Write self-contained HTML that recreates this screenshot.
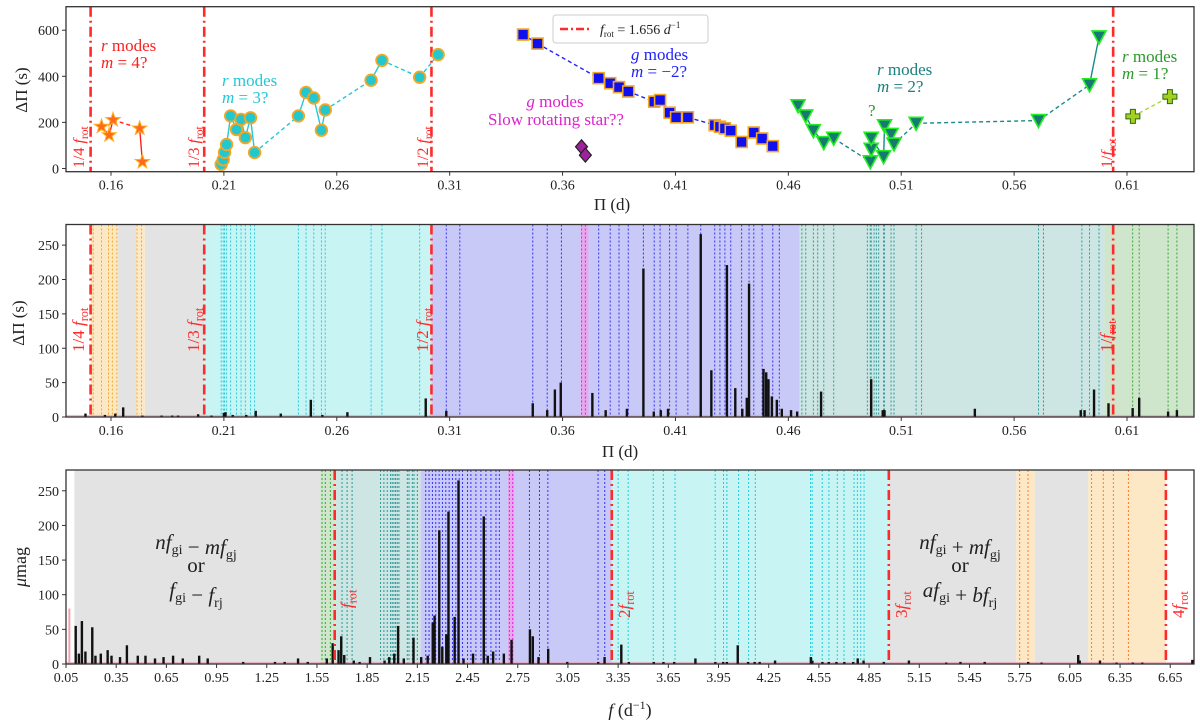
<!DOCTYPE html>
<html><head><meta charset="utf-8"><style>
html,body{margin:0;padding:0;background:#fff;}
svg{display:block;font-family:"Liberation Serif","DejaVu Serif",serif;}
</style></head><body>
<svg id="fig" width="1200" height="728" viewBox="0 0 1200 728" xmlns="http://www.w3.org/2000/svg">
<g id="p1"></g>
<g id="p2"></g>
<g id="p3"></g>
</svg>
<script>
// ---------- data ----------
const fRot = 1.656;
const starP=[0.1558,0.1592,0.1609,0.1727,0.1739];
const starD=[182,145,211,174,29];
const circP=[0.2088,0.2097,0.2103,0.2112,0.2130,0.2156,0.2176,0.2195,0.2218,0.2236,0.2430,0.2464,0.2498,0.2532,0.2549,0.2752,0.2800,0.2967,0.3049];
const circD=[18,38,70,104,228,169,213,134,220,69,228,330,306,166,254,383,469,396,494];
const sqP=[0.3425,0.3489,0.3760,0.3811,0.3850,0.3891,0.4006,0.4032,0.4074,0.4103,0.4155,0.4274,0.4297,0.4319,0.4345,0.4393,0.4447,0.4484,0.4531];
const sqD=[581,542,392,370,353,334,290,297,242,222,222,188,181,174,164,115,156,130,97];
const triP=[0.4643,0.4677,0.4711,0.4757,0.4801,0.4963,0.4967,0.4967,0.5022,0.5026,0.5055,0.5068,0.5166,0.5708,0.5934,0.5976];
const triD=[272,228,164,112,131,29,83,131,51,185,148,106,196,208,363,571];
const plusP=[0.6126,0.6290];
const plusD=[226,312];
const diaP=[0.3684,0.3701];
const diaD=[94,58];
const yTicks1=[0,200,400,600];
const piTicks=[0.16,0.21,0.26,0.31,0.36,0.41,0.46,0.51,0.56,0.61];
const yTicks23=[0,50,100,150,200,250];
const fTicks=[0.05,0.35,0.65,0.95,1.25,1.55,1.85,2.15,2.45,2.75,3.05,3.35,3.65,3.95,4.25,4.55,4.85,5.15,5.45,5.75,6.05,6.35,6.65];
// panel 2 bars (period, amplitude)
const barP=[0.1487,0.1573,0.1619,0.1654,0.1739,0.1824,0.1871,0.1897,0.1986,0.2045,0.2100,0.2107,0.2139,0.2199,0.2241,0.2352,0.2485,0.2536,0.2647,0.2994,0.3085,0.3468,0.3532,0.3566,0.3592,0.3732,0.3791,0.3885,0.3958,0.4004,0.4035,0.4067,0.4212,0.4259,0.4328,0.4365,0.4396,0.4416,0.4426,0.4490,0.4502,0.4512,0.4527,0.4549,0.4571,0.4612,0.4639,0.4745,0.4967,0.5018,0.5026,0.5426,0.5895,0.5912,0.5954,0.6018,0.6125,0.6154,0.6282,0.6321];
const barA=[5,3,5,14,2,2,2,2,4,2,6,7,3,3,9,5,25,3,7,27,9,20,10,40,50,35,10,12,216,8,10,12,266,68,221,42,12,28,194,70,65,55,30,25,12,10,8,37,55,10,10,12,10,10,40,20,13,28,8,10];
// panel 3 bars (frequency, amplitude)
const barF=[0.108,0.127,0.145,0.166,0.207,0.226,0.258,0.299,0.322,0.373,0.414,0.479,0.525,0.582,0.633,0.690,0.748,0.846,0.897,1.109,1.299,1.357,1.437,1.495,1.609,1.644,1.679,1.695,1.713,1.770,1.805,1.867,1.954,1.982,2.012,2.035,2.069,2.127,2.173,2.212,2.242,2.253,2.281,2.299,2.323,2.336,2.373,2.396,2.426,2.483,2.547,2.571,2.603,2.667,2.713,2.823,2.840,2.874,2.932,3.046,3.231,3.269,3.369,3.414,3.563,3.621,3.685,3.812,3.931,3.978,4.000,4.065,4.127,4.166,4.196,4.288,4.502,4.511,4.571,4.609,4.655,4.702,4.755,4.782,4.817,4.938,5.088,5.311,5.396,5.541,5.801,5.881,6.100,6.109,6.230,6.329,6.426,6.483,6.782];
const barFA=[55,15,62,18,53,12,15,20,12,10,27,12,12,8,10,12,8,12,8,3,3,3,8,3,8,30,20,40,13,5,3,10,5,10,15,55,8,38,10,12,60,70,193,25,43,220,68,265,8,15,213,12,18,15,35,50,40,10,22,3,3,10,28,3,3,3,3,8,3,3,3,27,3,3,3,5,10,5,3,3,3,3,3,8,5,3,5,2,3,3,3,2,13,5,5,2,2,2,6];
// panel 2 regions [start,end] in period
const regP=[[0.1510,0.1630,'#fde8c6'],[0.1630,0.1712,'#e3e3e3'],[0.1712,0.1750,'#fde8c6'],[0.1750,0.2013,'#e3e3e3'],[0.2013,0.3019,'#c9f4f4'],[0.3019,0.3680,'#c9c9f7'],[0.3680,0.3715,'#e7a7ee'],[0.3715,0.4650,'#c9c9f7'],[0.4650,0.6000,'#cde5e3'],[0.6000,0.6397,'#cfe5cc']];
// panel 3 regions in frequency
const regF=[[0.10,1.57,'#e3e3e3'],[1.57,1.656,'#cfe5cc'],[1.656,2.17,'#cde5e3'],[2.17,2.69,'#c9c9f7'],[2.69,2.73,'#e7a7ee'],[2.73,3.312,'#c9c9f7'],[3.312,4.968,'#c9f4f4'],[4.968,5.73,'#e3e3e3'],[5.73,5.84,'#fde8c6'],[5.84,6.16,'#e3e3e3'],[6.16,6.624,'#fde8c6']];
const dotP_orange=[0.1521,0.1558,0.1589,0.1606,0.1626,0.1715,0.1735];
const dotP_cyan=[0.2088,0.2097,0.2103,0.2112,0.2130,0.2156,0.2176,0.2195,0.2218,0.2236,0.2430,0.2464,0.2498,0.2532,0.2549,0.2752,0.2800,0.2967];
const dotP_blue=[0.3085,0.3145,0.3468,0.3532,0.3595,0.3760,0.3811,0.3850,0.3891,0.3958,0.4006,0.4032,0.4074,0.4103,0.4155,0.4212,0.4274,0.4297,0.4319,0.4345,0.4393,0.4426,0.4447,0.4484,0.4531,0.4560];
const dotP_teal=[0.4660,0.4677,0.4711,0.4730,0.4757,0.4801,0.4950,0.4963,0.4967,0.4980,0.4990,0.5000,0.5022,0.5026,0.5055,0.5068,0.5166,0.5190,0.5708,0.5730,0.5900,0.5934,0.5976];
const dotP_green=[0.6125,0.6154,0.6282,0.6321];
const dotP_mag=[0.3684,0.3701];
const dotF_green=[1.58,1.60,1.63];
const dotF_teal=[1.70,1.73,1.76,1.93,1.95,1.97,1.99,2.00,2.01,2.02,2.03,2.04,2.09,2.10,2.12,2.13,2.15];
const dotF_blue=[2.20,2.22,2.24,2.26,2.28,2.30,2.32,2.34,2.36,2.38,2.40,2.42,2.45,2.47,2.50,2.53,2.56,2.59,2.62,2.64,2.82,2.88,2.93,3.23,3.27];
const dotF_mag=[2.70,2.72];
const dotF_cyan=[3.35,3.41,3.56,3.62,3.69,3.93,3.98,4.00,4.07,4.13,4.17,4.50,4.51,4.57,4.61,4.66,4.70,4.76,4.78,4.80,4.82];
const dotF_orange=[5.75,5.80,6.18,6.25,6.31,6.40];

// ---------- helpers ----------
const NS='http://www.w3.org/2000/svg';
function mk(parent,tag,attrs,text){const e=document.createElementNS(NS,tag);for(const k in attrs)e.setAttribute(k,attrs[k]);if(text!==undefined)e.textContent=text;parent.appendChild(e);return e;}
function lin(d0,d1,r0,r1){return v=>r0+(v-d0)*(r1-r0)/(d1-d0);}
const X0=66,X1=1194;
const xPi=lin(0.14007,0.63967,X0,X1);
const xF=lin(0.05,6.792,X0,X1);
const y1=lin(-14,702,171.7,6.7);
const y2=lin(0,280,417,224.5);
const y3=lin(0,280,664,470);
const RED='#ff2a2a';

function frame(g,top,bot,name){
  const r=mk(g,'rect',{x:X0,y:top,width:X1-X0,height:bot-top,fill:'none',stroke:'#333',  'stroke-width':1.3});
  
  
}
function xTicks(g,ticks,sx,bot,fmt,name){
  const gg=mk(g,'g',{});
  
  
  ticks.forEach(t=>{const x=sx(t);mk(gg,'line',{x1:x,x2:x,y1:bot,y2:bot+4,stroke:'#333'});
    mk(gg,'text',{x:x,y:bot+18,'font-size':14,'text-anchor':'middle',fill:'#222'},fmt(t));});
}
function yTicks(g,ticks,sy,name){
  const gg=mk(g,'g',{});
  
  
  ticks.forEach(t=>{const y=sy(t);mk(gg,'line',{x1:X0-4,x2:X0,y1:y,y2:y,stroke:'#333'});
    mk(gg,'text',{x:X0-7,y:y+5,'font-size':14,'text-anchor':'end',fill:'#222'},String(t));});
}
function vred(g,x,top,bot){
  const l=mk(g,'line',{x1:x,x2:x,y1:top,y2:bot,stroke:RED,'stroke-width':2.6,'stroke-dasharray':'10,4,2,4'});
  
  
}
function rotLabel(g,x,y,pre,size,name){
  const t=mk(g,'text',{x:0,y:0,transform:`translate(${x},${y}) rotate(-90)`,'font-size':size,fill:RED});
  
  
  mk(t,'tspan',{},pre);
  mk(t,'tspan',{'font-style':'italic'},'f');
  mk(t,'tspan',{'font-size':size*0.72,dy:4},'rot');
}
function series(g,P,D,color,dash,name){
  const gg=mk(g,'g',{});
  
  
  for(let i=0;i<P.length-1;i++){
    const solid=(P[i+1]-P[i])<0.006;
    mk(gg,'line',{x1:xPi(P[i]),y1:y1(D[i]),x2:xPi(P[i+1]),y2:y1(D[i+1]),stroke:color,'stroke-width':1.4,'stroke-dasharray':(solid&&!dash)?'none':'4,3'});
  }
  return gg;
}
function twoLine(g,x,y,c,l1,l2,name){
  const t=mk(g,'text',{x:x,y:y,'font-size':17,fill:c});
  
  
  mk(t,'tspan',{'font-style':'italic'},l1[0]);mk(t,'tspan',{},l1[1]);
  const t2=mk(g,'text',{x:x,y:y+17,'font-size':17,fill:c});
  
  
  mk(t2,'tspan',{'font-style':'italic'},'m');mk(t2,'tspan',{},l2);
}

// ---------- panel 1 ----------
const g1=document.getElementById('p1');
[4,3,2,1].forEach(k=>vred(g1,xPi(1/(k*fRot)),6.7,171.7));
rotLabel(g1,84,168,'1/4 ',16,'label-quarter-frot');
rotLabel(g1,199,168,'1/3 ',16,'label-third-frot');
rotLabel(g1,428,168,'1/2 ',16,'label-half-frot');
rotLabel(g1,1112,168,'1/',16,'label-frot');
series(g1,starP,starD,'#ff2020',false,'r-modes-m4-line');
series(g1,circP,circD,'#22c8d8',false,'r-modes-m3-line');
series(g1,sqP,sqD,'#2222ff',true,'g-modes-m-2-line');
series(g1,triP,triD,'#1a8a8a',false,'r-modes-m2-line');
series(g1,plusP,plusD,'#a8d838',true,'r-modes-m1-line');
starP.forEach((p,i)=>{const x=xPi(p),y=y1(starD[i]);let pts='';for(let k=0;k<10;k++){const r=k%2?3:7.5;const a=-Math.PI/2+k*Math.PI/5;pts+=(x+r*Math.cos(a)).toFixed(1)+','+(y+r*Math.sin(a)).toFixed(1)+' ';}
  const s=mk(g1,'polygon',{points:pts,fill:'#ff6a1a',stroke:'#ffb020','stroke-width':1});
  
  });
circP.forEach((p,i)=>{const c=mk(g1,'circle',{cx:xPi(p),cy:y1(circD[i]),r:5.8,fill:'#22c8d0',stroke:'#f5a623','stroke-width':1.8});
  
  });
sqP.forEach((p,i)=>{const r=mk(g1,'rect',{x:xPi(p)-5.5,y:y1(sqD[i])-5.5,width:11,height:11,fill:'#1010ee',stroke:'#f5a623','stroke-width':1.6});
  
  });
triP.forEach((p,i)=>{const x=xPi(p),y=y1(triD[i]);const t=mk(g1,'polygon',{points:`${x-7},${y-6} ${x+7},${y-6} ${x},${y+7}`,fill:'#167a70',stroke:'#22ee22','stroke-width':1.6});
  
  });
plusP.forEach((p,i)=>{const x=xPi(p),y=y1(plusD[i]);const t=mk(g1,'path',{d:`M${x-7},${y-2.5}h4.5v-4.5h5v4.5h4.5v5h-4.5v4.5h-5v-4.5h-4.5z`,fill:'#a6d020',stroke:'#2a6a10','stroke-width':1});
  
  });
diaP.forEach((p,i)=>{const x=xPi(p),y=y1(diaD[i]);const d=mk(g1,'polygon',{points:`${x},${y-7} ${x+6},${y} ${x},${y+7} ${x-6},${y}`,fill:'#a020a0',stroke:'#222','stroke-width':1.2});
  
  });
twoLine(g1,101,51,'#ff2020',['r',' modes'],' = 4?','r-modes-m4-label');
twoLine(g1,222,86,'#22c8d8',['r',' modes'],' = 3?','r-modes-m3-label');
twoLine(g1,631,60,'#2222ff',['g',' modes'],' = −2?','g-modes-m-2-label');
twoLine(g1,877,75,'#1a8080',['r',' modes'],' = 2?','r-modes-m2-label');
twoLine(g1,1122,62,'#2a9a2a',['r',' modes'],' = 1?','r-modes-m1-label');
{const t=mk(g1,'text',{x:868,y:116,'font-size':17,fill:'#2a9a2a'},'?');
 const a=mk(g1,'text',{x:555,y:107,'font-size':17,fill:'#dd22cc','text-anchor':'middle'});
 mk(a,'tspan',{'font-style':'italic'},'g');mk(a,'tspan',{},' modes');
 const b=mk(g1,'text',{x:556,y:125,'font-size':17,fill:'#dd22cc','text-anchor':'middle'},'Slow rotating star??');}
{const lg=mk(g1,'g',{});
 mk(lg,'rect',{x:553,y:15,width:155,height:28,rx:3,fill:'#fff',stroke:'#ccc'});
 mk(lg,'line',{x1:560,x2:590,y1:29,y2:29,stroke:RED,'stroke-width':2.6,'stroke-dasharray':'8,3,2,3'});
 const t=mk(lg,'text',{x:600,y:34,'font-size':14,fill:'#222'});
 mk(t,'tspan',{'font-style':'italic'},'f');mk(t,'tspan',{'font-size':9,dy:3},'rot');mk(t,'tspan',{dy:-3},' = 1.656 ');mk(t,'tspan',{'font-style':'italic'},'d');mk(t,'tspan',{'font-size':9,dy:-6},'−1');}
frame(g1,6.7,171.7,'panel1-frame');
xTicks(g1,piTicks,xPi,171.7,t=>t.toFixed(2),'panel1-x-ticks');
yTicks(g1,yTicks1,y1,'panel1-y-ticks');
{const t=mk(g1,'text',{x:612,y:210,'font-size':17,'text-anchor':'middle',fill:'#222'},'Π (d)');
 const y=mk(g1,'text',{x:0,y:0,transform:'translate(27,90) rotate(-90)','font-size':17,'text-anchor':'middle',fill:'#222'},'ΔΠ (s)');}

// ---------- panel 2 ----------
const g2=document.getElementById('p2');
regP.forEach(r=>{const e=mk(g2,'rect',{x:xPi(r[0]),y:224.5,width:xPi(r[1])-xPi(r[0]),height:417-224.5,fill:r[2]});
  
  });
function dots(g,arr,sx,top,bot,col,name){arr.forEach(v=>{const l=mk(g,'line',{x1:sx(v),x2:sx(v),y1:top,y2:bot,stroke:col,'stroke-width':1,'stroke-dasharray':'2,2'});
  
  });}
dots(g2,dotP_orange,xPi,224.5,417,'#f5a623','orange-mode-line');
dots(g2,dotP_cyan,xPi,224.5,417,'#22ccdd','cyan-mode-line');
dots(g2,dotP_blue,xPi,224.5,417,'#3030ff','blue-mode-line');
dots(g2,dotP_teal,xPi,224.5,417,'#2a9a9a','teal-mode-line');
dots(g2,dotP_green,xPi,224.5,417,'#33aa33','green-mode-line');
dots(g2,dotP_mag,xPi,224.5,417,'#dd22dd','magenta-mode-line');
{const n=mk(g2,'rect',{x:X0,y:y2(3),width:X1-X0,height:y2(0)-y2(3),fill:'#e8a0b8',opacity:0.7});}
barP.forEach((p,i)=>{const b=mk(g2,'rect',{x:xPi(p)-1.2,y:y2(barA[i]),width:2.4,height:y2(0)-y2(barA[i]),fill:'#111'});
  
  });
[4,3,2,1].forEach(k=>vred(g2,xPi(1/(k*fRot)),224.5,417));
rotLabel(g2,84,352,'1/4 ',17,'p2-label-quarter-frot');
rotLabel(g2,199,352,'1/3 ',17,'p2-label-third-frot');
rotLabel(g2,428,352,'1/2 ',17,'p2-label-half-frot');
rotLabel(g2,1112,352,'1/',17,'p2-label-frot');
frame(g2,224.5,417,'panel2-frame');
xTicks(g2,piTicks,xPi,417,t=>t.toFixed(2),'panel2-x-ticks');
yTicks(g2,yTicks23,y2,'panel2-y-ticks');
{const t=mk(g2,'text',{x:620,y:457,'font-size':17,'text-anchor':'middle',fill:'#222'},'Π (d)');
 const y=mk(g2,'text',{x:0,y:0,transform:'translate(24,323) rotate(-90)','font-size':17,'text-anchor':'middle',fill:'#222'},'ΔΠ (s)');}

// ---------- panel 3 ----------
const g3=document.getElementById('p3');
regF.forEach(r=>{const e=mk(g3,'rect',{x:xF(r[0]),y:470,width:xF(r[1])-xF(r[0]),height:194,fill:r[2]});
  
  });
dots(g3,dotF_green,xF,470,664,'#33aa33','green-freq-line');
dots(g3,dotF_teal,xF,470,664,'#2a9a9a','teal-freq-line');
dots(g3,dotF_blue,xF,470,664,'#3030ff','blue-freq-line');
dots(g3,dotF_mag,xF,470,664,'#dd22dd','magenta-freq-line');
dots(g3,dotF_cyan,xF,470,664,'#22ccdd','cyan-freq-line');
dots(g3,dotF_orange,xF,470,664,'#ff7a30','orange-freq-line');
{const n=mk(g3,'rect',{x:X0,y:y3(3),width:X1-X0,height:y3(0)-y3(3),fill:'#e8a0b8',opacity:0.7});
 const p=mk(g3,'rect',{x:xF(0.07)-1,y:y3(80),width:2,height:y3(0)-y3(80),fill:'#f4a0b0'});}
barF.forEach((f,i)=>{const b=mk(g3,'rect',{x:xF(f)-1.2,y:y3(barFA[i]),width:2.4,height:y3(0)-y3(barFA[i]),fill:'#111'});
  
  });
[1,2,3,4].forEach(k=>vred(g3,xF(k*fRot),470,664));
rotLabel(g3,xF(fRot)+18,608,'',17,'label-1-frot');
rotLabel(g3,xF(2*fRot)+18,618,'2',17,'label-2-frot');
rotLabel(g3,xF(3*fRot)+18,618,'3',17,'label-3-frot');
rotLabel(g3,xF(4*fRot)+18,618,'4',17,'label-4-frot');
function combo(g,x,y,parts,name){
  const t=mk(g,'text',{x:x,y:y,'font-size':21,'text-anchor':'middle',fill:'#222'});
  
  
  parts.forEach(p=>{if(p[1]==='i')mk(t,'tspan',{'font-style':'italic'},p[0]);else if(p[1]==='s'){mk(t,'tspan',{'font-size':14,dy:5},p[0]);mk(t,'tspan',{dy:-5},'');}else mk(t,'tspan',{},p[0]);});
}
combo(g3,196,549,[['n','i'],['f','i'],['gi','s'],[' − '],['m','i'],['f','i'],['gj','s']],'combination-left-1');
combo(g3,196,572,[['or']],'combination-left-or');
combo(g3,196,597,[['f','i'],['gi','s'],[' − '],['f','i'],['rj','s']],'combination-left-2');
combo(g3,960,549,[['n','i'],['f','i'],['gi','s'],[' + '],['m','i'],['f','i'],['gj','s']],'combination-right-1');
combo(g3,960,572,[['or']],'combination-right-or');
combo(g3,960,597,[['a','i'],['f','i'],['gi','s'],[' + '],['b','i'],['f','i'],['rj','s']],'combination-right-2');
frame(g3,470,664,'panel3-frame');
xTicks(g3,fTicks,xF,664,t=>t.toFixed(2),'panel3-x-ticks');
yTicks(g3,yTicks23,y3,'panel3-y-ticks');
{const t=mk(g3,'text',{x:630,y:716,'font-size':18,'text-anchor':'middle',fill:'#222'});
 mk(t,'tspan',{'font-style':'italic'},'f');mk(t,'tspan',{},' (d');mk(t,'tspan',{'font-size':12,dy:-7},'−1');mk(t,'tspan',{dy:7},')');
 const y=mk(g3,'text',{x:0,y:0,transform:'translate(26,567) rotate(-90)','font-size':18,'text-anchor':'middle',fill:'#222'});
 mk(y,'tspan',{'font-style':'italic'},'μ');mk(y,'tspan',{},'mag');}
</script>
</body></html>
